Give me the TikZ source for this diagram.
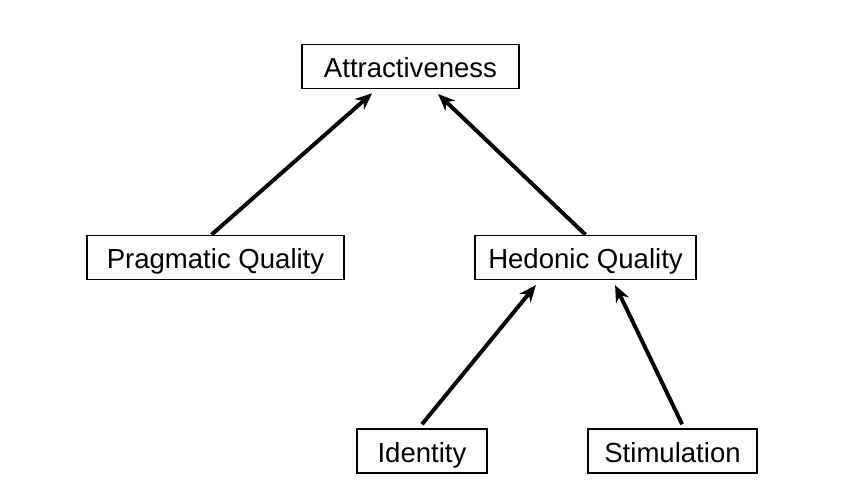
\documentclass[tikz,border=0pt]{standalone}
\usepackage{fontspec}
\setmainfont{Liberation Sans}
\usetikzlibrary{positioning,arrows.meta}

\begin{document}
\begin{tikzpicture}[>=Stealth, every node/.style={font=\fontsize{19.6}{23}\selectfont}]
\tikzset{
  boxnode/.style={
    draw,
    rectangle,
    fill=white,
    inner sep=0pt,
    text height=17pt,
    text depth=1pt,
    minimum height=1.1cm,
    line width=1.1pt,
  },
  link/.style={
    ->,
    line width=2.8pt,
    >={Stealth[length=12pt,width=10pt]},
  }
}
\useasboundingbox (0,0) rectangle (21.45,12.475);

\node[boxnode, minimum width=5.425cm] (att) at (10.2625,10.8125) {Attractiveness};
\node[boxnode, minimum width=6.425cm] (prag) at (5.3875,6.0375) {Pragmatic Quality};
\node[boxnode, minimum width=5.525cm] (hed) at (14.6375,6.0375) {Hedonic Quality};
\node[boxnode, minimum width=3.25cm] (iden) at (10.55,1.2) {Identity};
\node[boxnode, minimum width=4.225cm] (stim) at (16.8125,1.2) {Stimulation};

\draw[link] ([xshift=-0.1cm]prag.north) -- ([xshift=-0.96cm,yshift=-0.1cm]att.south);
\draw[link] (hed.north) -- ([xshift=0.69cm,yshift=-0.12cm]att.south);

\draw[link] ([yshift=0.1cm]iden.north) -- ([xshift=-1.24cm,yshift=-0.12cm]hed.south);
\draw[link] ([xshift=0.24cm,yshift=0.1cm]stim.north) -- ([xshift=0.74cm,yshift=-0.12cm]hed.south);

\end{tikzpicture}
\end{document}
